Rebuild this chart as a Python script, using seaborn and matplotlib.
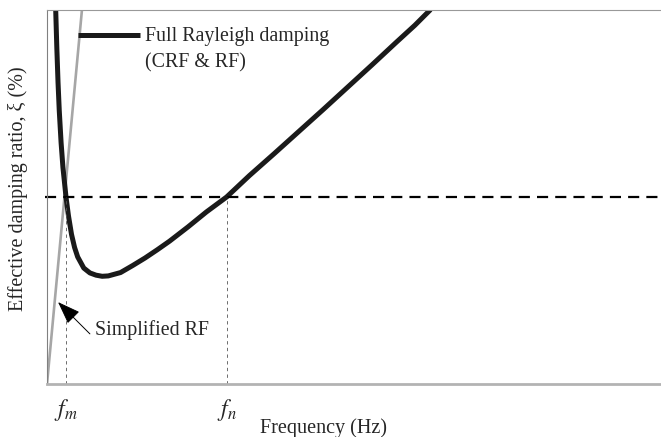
import matplotlib
matplotlib.use("Agg")
import matplotlib.pyplot as plt
import matplotlib.transforms as mtransforms
import seaborn as sns
import pandas as pd

# ---- data (frequency units, damping %) ----
freq_full = [0.142, 0.16, 0.18, 0.2, 0.23, 0.26, 0.31, 0.35, 0.4, 0.45, 0.5, 0.6, 0.7,
             0.8, 0.9, 1.0, 1.2, 1.4, 1.6, 1.8, 2.0, 2.3, 2.6, 2.93, 3.3, 3.7, 4.1,
             4.5, 4.9, 5.3, 5.7, 6.0, 6.25]
xi_full = [10.0, 9.0, 8.06, 7.31, 6.45, 5.79, 5.0, 4.5, 4.0, 3.65, 3.4, 3.1, 2.97,
           2.91, 2.88, 2.89, 2.98, 3.17, 3.37, 3.59, 3.82, 4.2, 4.6, 5.0, 5.57, 6.15, 6.74,
           7.33, 7.93, 8.53, 9.14, 9.59, 10.0]
freq_simple = [0.0, 0.57]
xi_simple = [0.0, 10.0]
xi_target = 5.0
f_m = 0.31
f_n = 2.93
tick_labels = [r"$f_m$", r"$f_n$"]

df_full = pd.DataFrame({"f": freq_full, "xi": xi_full})
df_simple = pd.DataFrame({"f": freq_simple, "xi": xi_simple})

sns.set_style("white")
plt.rcParams["font.family"] = ["Liberation Serif", "DejaVu Serif"]
plt.rcParams["mathtext.fontset"] = "stix"

fig = plt.figure(figsize=(6.61, 4.37), dpi=100)
ax = fig.add_axes([47 / 661, 53 / 437, 613 / 661, 374 / 437])

sns.lineplot(data=df_simple, x="f", y="xi", ax=ax, color="#a6a6a6", lw=1.9,
             sort=False, estimator=None)
sns.lineplot(data=df_full, x="f", y="xi", ax=ax, color="#1a1a1a", lw=3.6,
             sort=False, estimator=None)

ax.plot([-0.04, 10], [xi_target, xi_target], color="black", lw=1.6,
        dashes=(5, 3.2), clip_on=False)
for fv in (f_m, f_n):
    ax.plot([fv, fv], [0, xi_target], color="#555555", lw=0.6, dashes=(4, 4))

ax.set_xlim(0, 10)
ax.set_ylim(0, 10)
ax.set_xticks([])
ax.set_yticks([])
ax.set_xlabel("")
ax.set_ylabel("")
ax.spines["right"].set_visible(False)
ax.spines["left"].set_color("#808080")
ax.spines["left"].set_linewidth(0.8)
ax.spines["top"].set_color("#999999")
ax.spines["top"].set_linewidth(0.8)
ax.spines["bottom"].set_color("#b3b3b3")
ax.spines["bottom"].set_linewidth(2.0)

trans = mtransforms.blended_transform_factory(ax.transData, ax.transAxes)
for fv, lab in zip((f_m, f_n), tick_labels):
    ax.text(fv, -0.035, lab, transform=trans, ha="center", va="top", fontsize=17)

# legend-like label
ax.plot([0.51, 1.52], [9.33, 9.33], color="#1a1a1a", lw=3.6, solid_capstyle="butt")
ax.text(1.6, 9.28, "Full Rayleigh damping", fontsize=14.3, va="center", ha="left")
ax.text(1.6, 8.58, "(CRF & RF)", fontsize=14.3, va="center", ha="left")

ax.annotate("", xy=(0.18, 2.19), xytext=(0.70, 1.34),
            arrowprops=dict(arrowstyle="-|>,head_length=0.55,head_width=0.2",
                            mutation_scale=26, lw=0.7, color="black",
                            shrinkA=0, shrinkB=0))
ax.text(0.78, 1.44, "Simplified RF", fontsize=14.3, va="center", ha="left")

fig.text(324 / 661, 1 - 428 / 437, "Frequency (Hz)", fontsize=14.5,
         ha="center", va="center")
fig.text(18 / 661, 1 - 189 / 437, "Effective damping ratio, ξ (%)", fontsize=14.5,
         ha="center", va="center", rotation=90)

fig.savefig("out.png", dpi=100)
